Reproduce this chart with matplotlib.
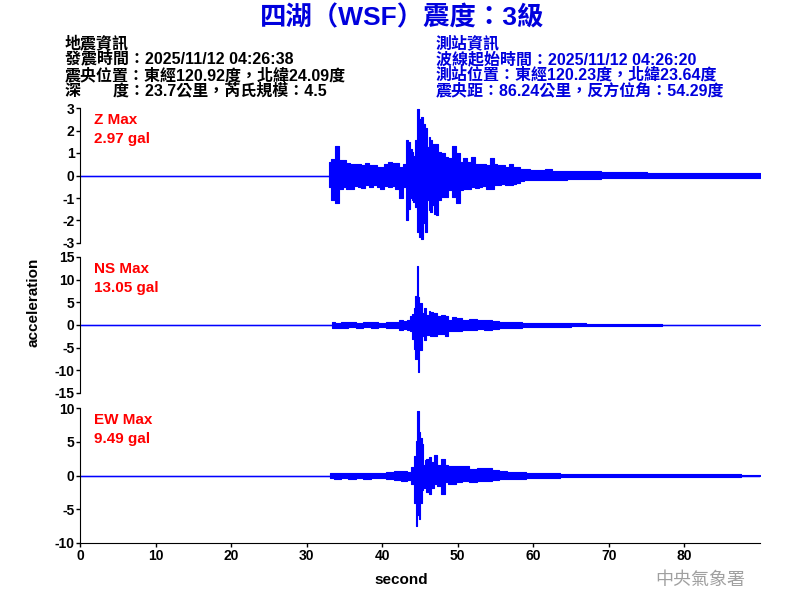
import numpy as np
import matplotlib
matplotlib.use("Agg")
import matplotlib.pyplot as plt

plt.rcParams['font.family'] = ['Liberation Sans', 'Noto Sans CJK TC', 'DejaVu Sans']
plt.rcParams['axes.unicode_minus'] = False

# envelope of each trace (seconds, upper gal, lower gal)
z_time = [0, 32.8, 33.0, 33.5, 34.0, 34.5, 35.0, 35.5, 36.0, 36.5, 37.0, 37.5, 38.0, 38.5, 39.0, 39.5,
          40.0, 40.5, 41.0, 41.5, 42.0, 42.5, 43.0, 43.25, 43.5, 43.75, 44.0, 44.25, 44.5, 44.75,
          45.0, 45.25, 45.5, 45.75, 46.0, 46.25, 46.5, 46.75, 47.0, 47.25, 47.5, 48.0, 48.5, 49.0,
          49.5, 50.0, 50.5, 51.0, 51.5, 52.0, 52.5, 53.0, 53.5, 54.0, 54.5, 55.0, 55.5, 56.0, 56.5,
          57.0, 57.5, 58.0, 58.5, 59.0, 60.0, 61.0, 62.0, 63.0, 64.0, 65.0, 66.0, 68.0, 70.0, 72.0,
          74.0, 76.0, 78.0, 80.0, 82.0, 84.0, 86.0, 88.0, 90.0]
z_hi = [0, 0, 0.6, 0.75, 1.3, 0.68, 0.68, 0.55, 0.53, 0.5, 0.53, 0.45, 0.56, 0.45, 0.46, 0.4,
        0.39, 0.5, 0.6, 0.55, 0.55, 0.39, 0.53, 1.57, 1.5, 1.2, 1.05, 0.86, 1.57, 2.97,
        2.53, 2.6, 2.31, 2.09, 1.27, 1.72, 1.57, 1.4, 1.42, 1.42, 1.05, 0.98, 0.83, 0.76,
        1.3, 0.98, 0.6, 0.76, 0.6, 0.83, 0.5, 0.53, 0.5, 0.46, 0.8, 0.53, 0.45, 0.46, 0.4,
        0.5, 0.4, 0.39, 0.3, 0.28, 0.24, 0.24, 0.27, 0.2, 0.2, 0.2, 0.18, 0.18, 0.15, 0.15,
        0.15, 0.12, 0.12, 0.12, 0.12, 0.12, 0.12, 0.12, 0.12]
z_lo = [0, 0, -0.5, -1.07, -1.22, -0.58, -0.5, -0.6, -0.58, -0.45, -0.5, -0.55, -0.43, -0.5, -0.43, -0.5,
        -0.58, -0.45, -0.5, -0.45, -0.58, -1.0, -0.5, -1.96, -1.47, -1.0, -1.1, -1.17, -1.39, -2.5,
        -2.73, -2.84, -2.13, -2.5, -1.1, -1.54, -1.61, -1.3, -1.69, -1.76, -1.1, -0.95, -0.95, -0.65,
        -0.95, -1.24, -0.65, -0.58, -0.6, -0.5, -0.55, -0.5, -0.45, -0.58, -0.58, -0.43, -0.4, -0.36, -0.4,
        -0.43, -0.36, -0.33, -0.25, -0.2, -0.2, -0.2, -0.18, -0.18, -0.18, -0.15, -0.15, -0.15, -0.12, -0.12,
        -0.12, -0.1, -0.1, -0.1, -0.1, -0.1, -0.1, -0.1, -0.1]

ns_time = [0, 33.3, 33.4, 34.0, 35.0, 36.0, 37.0, 38.0, 39.0, 40.0, 41.0, 42.0, 42.5, 43.0, 43.5, 43.75,
           44.0, 44.3, 44.5, 44.64, 44.8, 44.95, 45.1, 45.4, 45.6, 46.0, 46.25, 46.5, 47.0, 47.5,
           48.0, 48.5, 49.0, 49.5, 50.0, 51.0, 52.0, 53.0, 54.0, 55.0, 56.0, 57.0, 58.0, 59.0,
           60.0, 62.0, 64.0, 66.0, 68.0, 70.0, 72.0, 74.0, 76.0, 78.0, 90.0]
ns_hi = [0, 0, 0.6, 0.5, 0.66, 0.6, 0.5, 0.6, 0.66, 0.5, 0.66, 0.6, 1.2, 0.8, 1.2, 1.9,
         2.5, 3.75, 6.3, 13.05, 6.2, 3.4, 4.85, 2.6, 3.75, 2.3, 3.0, 2.9, 2.6, 1.9,
         2.3, 2.06, 1.2, 1.8, 1.5, 1.0, 1.3, 1.0, 1.0, 0.9, 0.75, 0.75, 0.75, 0.5,
         0.5, 0.4, 0.4, 0.35, 0.3, 0.3, 0.25, 0.25, 0.2, 0, 0]
ns_lo = [0, 0, -0.6, -0.6, -0.6, -0.5, -0.6, -0.5, -0.6, -0.5, -0.6, -0.7, -1.0, -0.8, -1.0, -1.4,
         -3.0, -5.4, -7.6, -4.0, -10.4, -4.0, -5.6, -2.5, -3.2, -2.1, -1.8, -2.35, -2.5, -1.9,
         -2.0, -2.5, -1.4, -1.4, -1.4, -1.2, -1.0, -0.9, -1.0, -0.9, -0.75, -0.75, -0.7, -0.5,
         -0.5, -0.4, -0.4, -0.3, -0.3, -0.25, -0.25, -0.2, -0.2, 0, 0]

ew_time = [0, 33.1, 33.2, 34.0, 35.0, 36.0, 37.0, 38.0, 39.0, 40.0, 41.0, 42.0, 43.0, 43.5, 44.0,
           44.3, 44.55, 44.75, 44.95, 45.1, 45.4, 45.5, 45.7, 46.0, 46.3, 46.6, 47.0, 47.5, 48.0,
           48.5, 49.0, 49.5, 50.0, 51.0, 52.0, 53.0, 54.0, 55.0, 56.0, 57.0, 58.0, 60.0, 62.0,
           65.0, 70.0, 75.0, 80.0, 85.0, 90.0]
ew_hi = [0, 0, 0.4, 0.35, 0.4, 0.4, 0.35, 0.4, 0.35, 0.4, 0.45, 0.64, 0.64, 0.55, 1.28,
         2.86, 5.1, 9.49, 6.5, 5.6, 4.6, 1.5, 2.3, 2.5, 2.8, 2.0, 3.1, 1.6, 2.4,
         1.5, 1.4, 1.4, 1.4, 1.4, 1.0, 1.1, 1.1, 0.8, 0.64, 0.55, 0.5, 0.35, 0.35,
         0.25, 0.25, 0.15, 0.15, 0.15, 0.1]
ew_lo = [0, 0, -0.4, -0.45, -0.4, -0.45, -0.4, -0.45, -0.4, -0.4, -0.5, -0.7, -0.85, -0.7, -1.2,
         -4.0, -7.45, -5.9, -6.5, -4.0, -2.2, -1.9, -1.7, -2.4, -2.7, -1.9, -1.3, -1.5, -2.8,
         -1.0, -1.3, -1.2, -1.0, -0.85, -1.0, -0.85, -0.75, -0.7, -0.55, -0.45, -0.45, -0.35, -0.35,
         -0.25, -0.25, -0.15, -0.15, -0.15, -0.1]

channels = ['Z', 'NS', 'EW']
max_labels = ['2.97 gal', '13.05 gal', '9.49 gal']
y_limits = [3, 15, 10]
y_steps = [1, 5, 5]
traces = [(z_time, z_hi, z_lo), (ns_time, ns_hi, ns_lo), (ew_time, ew_hi, ew_lo)]
x_ticks = [0, 10, 20, 30, 40, 50, 60, 70, 80]

title = '四湖（WSF）震度：3級'
quake_info = ['地震資訊', '發震時間：2025/11/12 04:26:38',
              '震央位置：東經120.92度，北緯24.09度', '深　　度：23.7公里，芮氏規模：4.5']
station_info = ['測站資訊', '波線起始時間：2025/11/12 04:26:20',
                '測站位置：東經120.23度，北緯23.64度', '震央距：86.24公里，反方位角：54.29度']

fig = plt.figure(figsize=(8, 6), dpi=100)

# panel boxes in pixels (top, bottom) of the 600 px figure
panel_px = [(108, 243), (257, 393), (408, 543)]
axes = []
for i, (top, bot) in enumerate(panel_px):
    ax = fig.add_axes([80 / 800, 1 - bot / 600, 680 / 800, (bot - top) / 600])
    t, hi, lo = traces[i]
    ax.axhline(0, color='blue', lw=1)
    ax.fill_between(t, lo, hi, step='mid', color='blue', lw=0.8)
    lim = y_limits[i]
    ax.set_ylim(-lim, lim)
    ax.set_xlim(0, 90)
    ax.set_yticks(np.arange(-lim, lim + 1, y_steps[i]))
    ax.spines['top'].set_visible(False)
    ax.spines['right'].set_visible(False)
    ax.tick_params(axis='both', direction='out', length=3, width=1, pad=1, labelsize=10)
    for lab in ax.get_yticklabels():
        lab.set_fontweight('bold')
    if i < 2:
        ax.spines['bottom'].set_visible(False)
        ax.set_xticks([])
    else:
        ax.set_xticks(x_ticks)
        for lab in ax.get_xticklabels():
            lab.set_fontweight('bold')
    ax.text(0.02, 0.91, channels[i] + ' Max', transform=ax.transAxes, color='red',
            fontsize=11, fontweight='bold', va='center')
    ax.text(0.02, 0.77, max_labels[i], transform=ax.transAxes, color='red',
            fontsize=11, fontweight='bold', va='center')
    ax.set_facecolor('none')
    axes.append(ax)

fig.text(402 / 800, 1 - 18 / 600, title, color='#0000DD', fontsize=19, fontweight='bold',
         ha='center', va='center')

line_y = [43, 59, 75, 91]
for k in range(4):
    fig.text(65 / 800, 1 - line_y[k] / 600, quake_info[k], color='black', fontsize=11.5,
             fontweight='bold', ha='left', va='center')
    fig.text(436 / 800, 1 - line_y[k] / 600, station_info[k], color='#0000DD', fontsize=11.5,
             fontweight='bold', ha='left', va='center')

fig.text(33 / 800, 1 - 302 / 600, 'acceleration', rotation=90, fontsize=11, fontweight='bold',
         ha='center', va='center')
fig.text(401 / 800, 1 - 580 / 600, 'second', fontsize=11, fontweight='bold',
         ha='center', va='center')
fig.text(700 / 800, 1 - 580 / 600, '中央氣象署', fontsize=13, color='#A0A0A0',
         ha='center', va='center')

fig.savefig('out.png', dpi=100)
